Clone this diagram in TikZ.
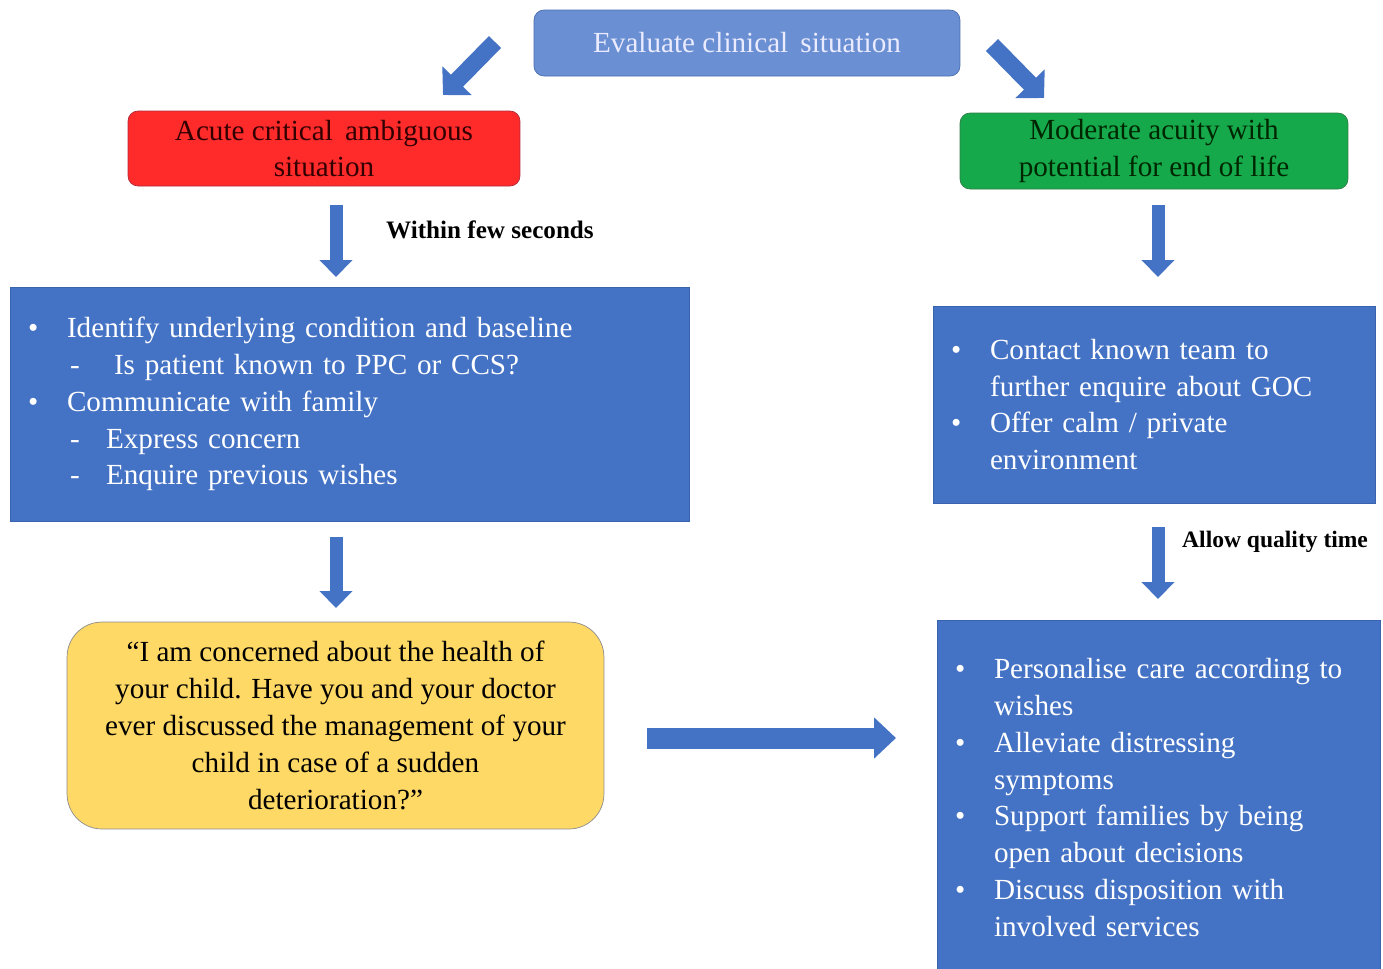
\documentclass[tikz,border=0pt]{standalone}
\usepackage{fontspec}
\setmainfont{Liberation Serif}
\usetikzlibrary{positioning,arrows.meta}

\definecolor{evalblue}{HTML}{6A8FD2}
\definecolor{evalline}{HTML}{4A6DB0}
\definecolor{boxblue}{HTML}{4472C4}
\definecolor{boxline}{HTML}{3A63AE}
\definecolor{acutered}{HTML}{FF2B2B}
\definecolor{acuteline}{HTML}{B02A3A}
\definecolor{modgreen}{HTML}{16A94B}
\definecolor{modline}{HTML}{2E7D45}
\definecolor{quoteyellow}{HTML}{FFD966}
\definecolor{quoteline}{HTML}{8C8C8C}

\newcommand{\bul}{\makebox[0.78cm][l]{\textbullet}}
\newcommand{\subdash}{\makebox[0.84cm][l]{}\makebox[0.72cm][l]{-}}

\tikzset{
  txt/.style={font=\fontsize{16.6}{21}\selectfont},
  topbox/.style={txt, draw=evalline, fill=evalblue, rounded corners=0.2cm,
    text=white!92!blue, minimum width=8.52cm, minimum height=1.32cm},
  casebox/.style={txt, draw, rounded corners=0.2cm, align=center, inner sep=0pt},
  stepsbox/.style={txt, draw=boxline, fill=boxblue, text=white, inner xsep=0.36cm,
    align=left},
  blockarrow/.style={draw=boxblue, line width=0.26cm,
    -{Triangle[width=0.64cm, length=0.34cm]}},
  timelabel/.style={font=\fontsize{14.3}{16}\selectfont\bfseries, anchor=west}
}

\begin{document}
\begin{tikzpicture}[x=0.02cm, y=-0.02cm]
\useasboundingbox (0,0) rectangle (1383,968);

% top node
\node[topbox] (eval) at (747,43) {Evaluate clinical\, situation};

% the two cases
\node[casebox, draw=acuteline, fill=acutered, text=black!80!red,
  minimum width=7.84cm, minimum height=1.5cm] (acute) at (324,148.5)
  {Acute critical\, ambiguous\\situation};
\node[casebox, draw=modline, fill=modgreen, text=black!85!green,
  minimum width=7.76cm, minimum height=1.52cm] (moderate) at (1154,151)
  {Moderate acuity with\\potential for end of life};

% left branch
\node[stepsbox, text width=12.86cm, minimum height=4.68cm] (identify) at (349.5,404)
  {\bul Identify underlying condition and baseline\\
   \makebox[0.84cm][l]{}\makebox[0.88cm][l]{-}Is patient known to PPC or CCS?\\
   \bul Communicate with family\\
   \subdash Express concern\\
   \subdash Enquire previous wishes};
\node[casebox, draw=quoteline, fill=quoteyellow, text=black, rounded corners=0.7cm,
  minimum width=10.74cm, minimum height=4.14cm] (quote) at (335.5,725.5)
  {``I am concerned about the health of\\
   your child. Have you and your doctor\\
   ever discussed the management of your\\
   child in case of a sudden\\
   deterioration?''};

% right branch
\node[stepsbox, text width=8.12cm, minimum height=3.94cm] (contact) at (1154,404.5)
  {\bul Contact known team to\\
   \makebox[0.78cm][l]{}further enquire about GOC\\
   \bul Offer calm / private\\
   \makebox[0.78cm][l]{}environment};
\node[stepsbox, text width=8.14cm, minimum height=7.1cm] (personal) at (1158.5,797.5)
  {\bul Personalise care according to\\
   \makebox[0.78cm][l]{}wishes\\
   \bul Alleviate distressing\\
   \makebox[0.78cm][l]{}symptoms\\
   \bul Support families by being\\
   \makebox[0.78cm][l]{}open about decisions\\
   \bul Discuss disposition with\\
   \makebox[0.78cm][l]{}involved services};

% arrow ends
\coordinate (evalL) at (495,42);
\coordinate (acuteT) at (443,95);
\coordinate (evalR) at (992,45);
\coordinate (modT) at (1044,98);
\coordinate (acuteB) at (336,205);
\coordinate (identT) at (336,277);
\coordinate (modB) at (1158,205);
\coordinate (contactT) at (1158,277);
\coordinate (identB) at (336,537);
\coordinate (quoteT) at (336,608);
\coordinate (contactB) at (1158,527);
\coordinate (personalT) at (1158,599);
\coordinate (quoteR) at (647,738);
\coordinate (personalL) at (896,738);

% arrows
\draw[blockarrow, line width=0.34cm, -{Triangle[width=0.8cm, length=0.4cm]}] (evalL) -- (acuteT);
\draw[blockarrow, line width=0.34cm, -{Triangle[width=0.8cm, length=0.4cm]}] (evalR) -- (modT);
\draw[blockarrow] (acuteB) -- (identT);
\draw[blockarrow] (modB) -- (contactT);
\draw[blockarrow] (identB) -- (quoteT);
\draw[blockarrow] (contactB) -- (personalT);
\draw[blockarrow, line width=0.42cm, -{Triangle[width=0.8cm, length=0.44cm]}]
  (quoteR) -- (personalL);

\node[timelabel] (fewsec) at (380,230) {Within few seconds};
\node[timelabel, font=\fontsize{13.4}{16}\selectfont\bfseries] (qualtime) at (1176,542) {Allow quality time};
\end{tikzpicture}
\end{document}
